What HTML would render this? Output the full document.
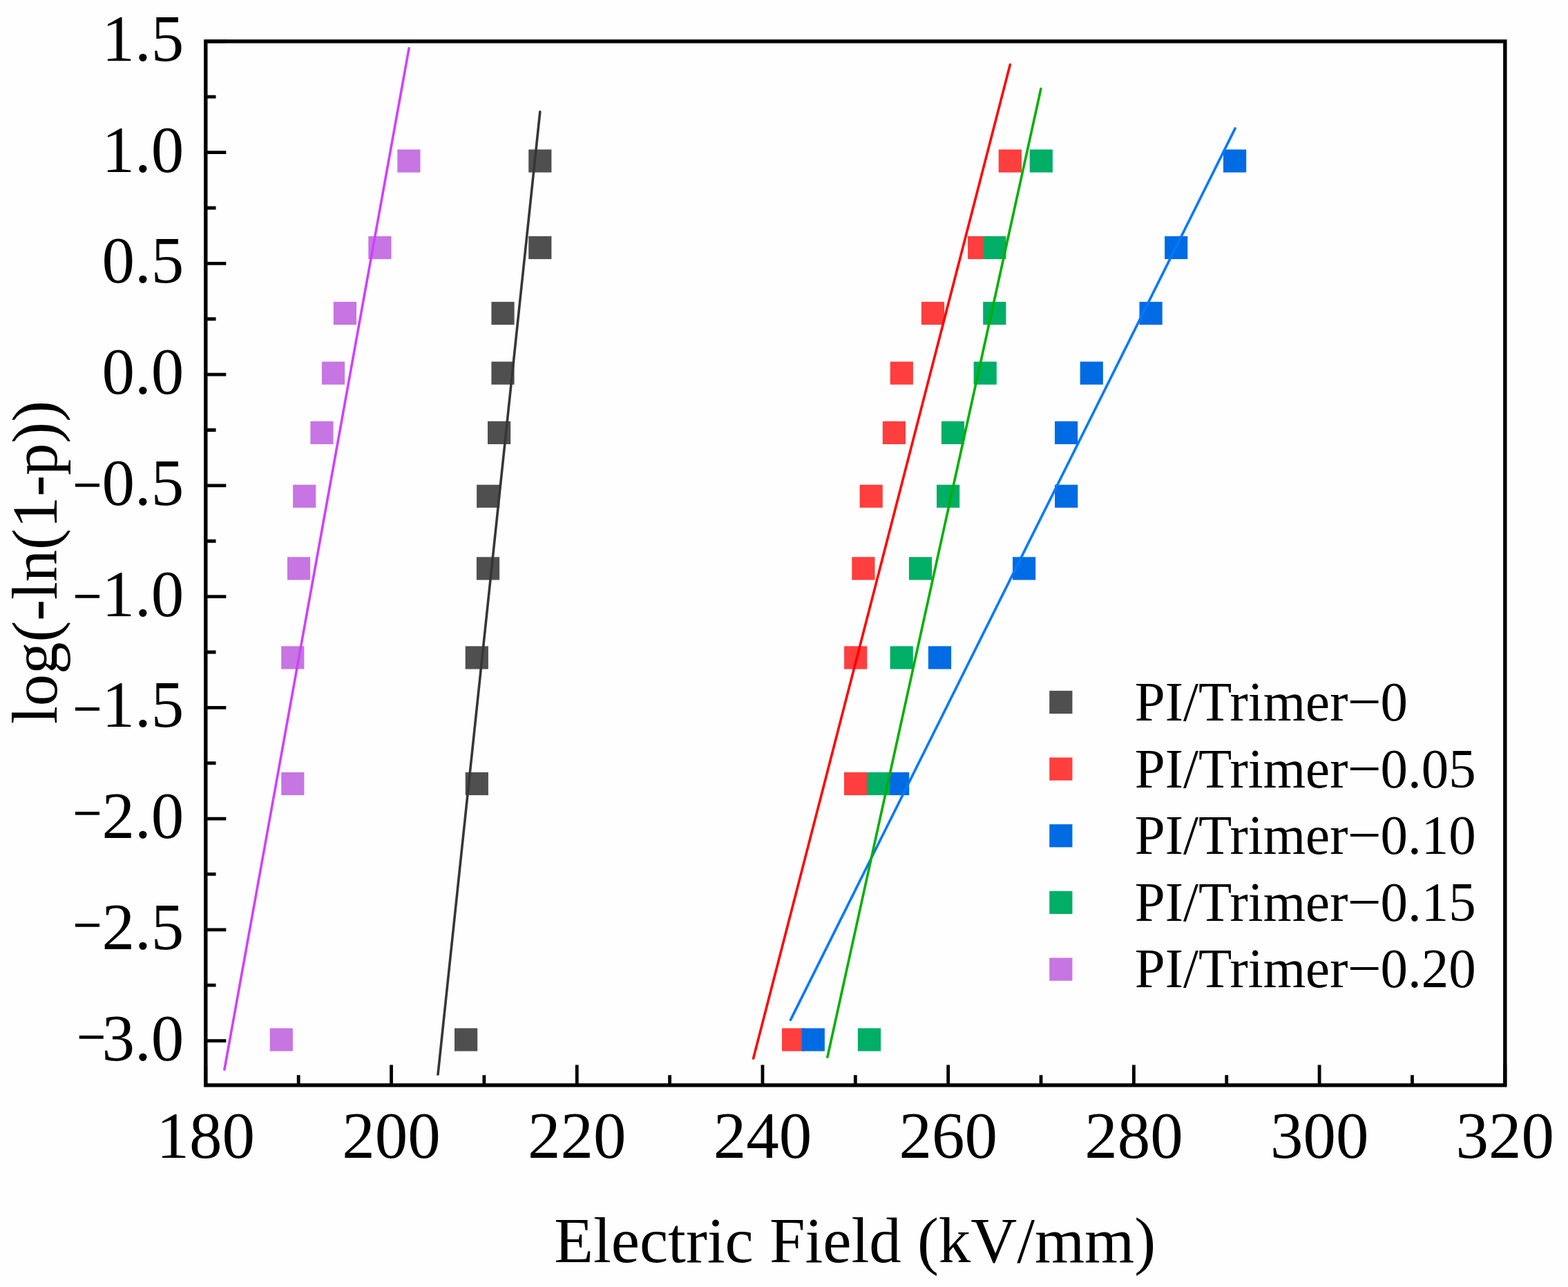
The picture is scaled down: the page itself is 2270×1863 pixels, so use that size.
<!DOCTYPE html><html><head><meta charset="utf-8"><title>Weibull plot</title><style>html,body{margin:0;padding:0;background:#fefefe;overflow:hidden;width:2270px;height:1863px;}svg{display:block;}text{font-family:"Liberation Serif","Times New Roman",serif;fill:#000;}</style></head><body>
<svg width="2270" height="1863" viewBox="0 0 2270 1863">
<rect x="0" y="0" width="2270" height="1863" fill="#fefefe"/>
<g fill="#4f4f4f">
<rect x="765.20" y="216.40" width="33.2" height="33.2"/>
<rect x="765.20" y="341.90" width="33.2" height="33.2"/>
<rect x="711.40" y="436.90" width="33.2" height="33.2"/>
<rect x="711.40" y="523.50" width="33.2" height="33.2"/>
<rect x="706.00" y="609.80" width="33.2" height="33.2"/>
<rect x="690.10" y="701.70" width="33.2" height="33.2"/>
<rect x="689.90" y="806.30" width="33.2" height="33.2"/>
<rect x="673.70" y="935.35" width="33.2" height="33.2"/>
<rect x="673.70" y="1117.90" width="33.2" height="33.2"/>
<rect x="658.00" y="1488.40" width="33.2" height="33.2"/>
</g>
<g fill="#ff3e3e">
<rect x="1445.70" y="216.40" width="33.2" height="33.2"/>
<rect x="1401.10" y="341.90" width="33.2" height="33.2"/>
<rect x="1333.90" y="436.90" width="33.2" height="33.2"/>
<rect x="1288.70" y="523.50" width="33.2" height="33.2"/>
<rect x="1277.80" y="609.80" width="33.2" height="33.2"/>
<rect x="1244.60" y="701.70" width="33.2" height="33.2"/>
<rect x="1233.30" y="806.30" width="33.2" height="33.2"/>
<rect x="1222.10" y="935.35" width="33.2" height="33.2"/>
<rect x="1222.00" y="1117.90" width="33.2" height="33.2"/>
<rect x="1132.00" y="1488.40" width="33.2" height="33.2"/>
</g>
<g fill="#006be3">
<rect x="1771.00" y="216.40" width="33.2" height="33.2"/>
<rect x="1686.10" y="341.90" width="33.2" height="33.2"/>
<rect x="1649.50" y="436.90" width="33.2" height="33.2"/>
<rect x="1563.70" y="523.50" width="33.2" height="33.2"/>
<rect x="1527.00" y="609.80" width="33.2" height="33.2"/>
<rect x="1527.10" y="701.70" width="33.2" height="33.2"/>
<rect x="1466.00" y="806.30" width="33.2" height="33.2"/>
<rect x="1343.90" y="935.35" width="33.2" height="33.2"/>
<rect x="1283.00" y="1117.90" width="33.2" height="33.2"/>
<rect x="1160.70" y="1488.40" width="33.2" height="33.2"/>
</g>
<g fill="#00ae66">
<rect x="1490.70" y="216.40" width="33.2" height="33.2"/>
<rect x="1423.20" y="341.90" width="33.2" height="33.2"/>
<rect x="1423.20" y="436.90" width="33.2" height="33.2"/>
<rect x="1409.60" y="523.50" width="33.2" height="33.2"/>
<rect x="1362.90" y="609.80" width="33.2" height="33.2"/>
<rect x="1356.00" y="701.70" width="33.2" height="33.2"/>
<rect x="1315.90" y="806.30" width="33.2" height="33.2"/>
<rect x="1288.60" y="935.35" width="33.2" height="33.2"/>
<rect x="1255.00" y="1117.90" width="33.2" height="33.2"/>
<rect x="1241.90" y="1488.40" width="33.2" height="33.2"/>
</g>
<g fill="#c675e3">
<rect x="575.30" y="216.40" width="33.2" height="33.2"/>
<rect x="533.30" y="341.90" width="33.2" height="33.2"/>
<rect x="482.80" y="436.90" width="33.2" height="33.2"/>
<rect x="465.90" y="523.50" width="33.2" height="33.2"/>
<rect x="449.40" y="609.80" width="33.2" height="33.2"/>
<rect x="424.10" y="701.70" width="33.2" height="33.2"/>
<rect x="416.00" y="806.30" width="33.2" height="33.2"/>
<rect x="407.20" y="935.35" width="33.2" height="33.2"/>
<rect x="407.20" y="1117.90" width="33.2" height="33.2"/>
<rect x="390.70" y="1488.40" width="33.2" height="33.2"/>
</g>
<line x1="634.0" y1="1555.3" x2="781.8" y2="161.9" stroke="#363636" stroke-width="3.6" stroke-linecap="round"/>
<line x1="1090.6" y1="1532.1" x2="1462.3" y2="93.6" stroke="#ff0000" stroke-width="3.6" stroke-linecap="round"/>
<line x1="1144.5" y1="1476.4" x2="1788.1" y2="185.9" stroke="#0078ff" stroke-width="3.6" stroke-linecap="round"/>
<line x1="1197.9" y1="1530.2" x2="1506.9" y2="128.6" stroke="#00b000" stroke-width="3.6" stroke-linecap="round"/>
<line x1="324.9" y1="1548.3" x2="592.1" y2="69.75" stroke="#d040ff" stroke-width="3.6" stroke-linecap="round"/>
<path d="M297.80 59.85H327.30M297.80 220.60H327.30M297.80 381.35H327.30M297.80 542.10H327.30M297.80 702.85H327.30M297.80 863.60H327.30M297.80 1024.35H327.30M297.80 1185.10H327.30M297.80 1345.85H327.30M297.80 1506.60H327.30M297.80 140.22H312.50M297.80 300.98H312.50M297.80 461.73H312.50M297.80 622.48H312.50M297.80 783.23H312.50M297.80 943.98H312.50M297.80 1104.72H312.50M297.80 1265.47H312.50M297.80 1426.22H312.50M297.80 1570.90V1541.40M566.52 1570.90V1541.40M835.24 1570.90V1541.40M1103.96 1570.90V1541.40M1372.68 1570.90V1541.40M1641.40 1570.90V1541.40M1910.12 1570.90V1541.40M2178.84 1570.90V1541.40M432.16 1570.90V1556.20M700.88 1570.90V1556.20M969.60 1570.90V1556.20M1238.32 1570.90V1556.20M1507.04 1570.90V1556.20M1775.76 1570.90V1556.20M2044.48 1570.90V1556.20" stroke="#000" stroke-width="4.8" fill="none"/>
<rect x="297.80" y="59.85" width="1881.04" height="1511.05" fill="none" stroke="#000" stroke-width="5.4"/>
<text transform="translate(266.3 87.75) scale(1 1.01)" font-size="95" text-anchor="end">1.5</text>
<text transform="translate(266.3 248.50) scale(1 1.01)" font-size="95" text-anchor="end">1.0</text>
<text transform="translate(266.3 409.25) scale(1 1.01)" font-size="95" text-anchor="end">0.5</text>
<text transform="translate(266.3 570.00) scale(1 1.01)" font-size="95" text-anchor="end">0.0</text>
<text transform="translate(105.15 734.09) scale(0.792 1)" font-size="95">−</text>
<text transform="translate(266.3 730.75) scale(1 1.01)" font-size="95" text-anchor="end">0.5</text>
<text transform="translate(105.35 895.39) scale(0.792 1)" font-size="95">−</text>
<text transform="translate(266.3 891.50) scale(1 1.01)" font-size="95" text-anchor="end">1.0</text>
<text transform="translate(105.35 1058.14) scale(0.792 1)" font-size="95">−</text>
<text transform="translate(266.3 1052.25) scale(1 1.01)" font-size="95" text-anchor="end">1.5</text>
<text transform="translate(105.15 1209.44) scale(0.792 1)" font-size="95">−</text>
<text transform="translate(266.3 1213.00) scale(1 1.01)" font-size="95" text-anchor="end">2.0</text>
<text transform="translate(105.35 1370.69) scale(0.792 1)" font-size="95">−</text>
<text transform="translate(266.3 1373.75) scale(1 1.01)" font-size="95" text-anchor="end">2.5</text>
<text transform="translate(111.05 1532.79) scale(0.792 1)" font-size="95">−</text>
<text transform="translate(266.3 1534.50) scale(1 1.01)" font-size="95" text-anchor="end">3.0</text>
<text transform="translate(297.80 1675.8) scale(1 1.01)" font-size="95" text-anchor="middle">180</text>
<text transform="translate(566.52 1675.8) scale(1 1.01)" font-size="95" text-anchor="middle">200</text>
<text transform="translate(835.24 1675.8) scale(1 1.01)" font-size="95" text-anchor="middle">220</text>
<text transform="translate(1103.96 1675.8) scale(1 1.01)" font-size="95" text-anchor="middle">240</text>
<text transform="translate(1372.68 1675.8) scale(1 1.01)" font-size="95" text-anchor="middle">260</text>
<text transform="translate(1641.40 1675.8) scale(1 1.01)" font-size="95" text-anchor="middle">280</text>
<text transform="translate(1910.12 1675.8) scale(1 1.01)" font-size="95" text-anchor="middle">300</text>
<text transform="translate(2178.84 1675.8) scale(1 1.01)" font-size="95" text-anchor="middle">320</text>
<text transform="translate(1237.75 1827.4) scale(1 1.01)" font-size="92.8" text-anchor="middle">Electric Field (kV/mm)</text>
<text transform="translate(81.7 813.95) rotate(-90) scale(1 1.01)" font-size="92.6" text-anchor="middle">log(-ln(1-p))</text>
<rect x="1519.25" y="999.90" width="33.2" height="33.2" fill="#4f4f4f"/>
<text transform="translate(1642.8 1043.00) scale(1 1.01)" font-size="79">PI/Trimer<tspan dx="4.0" dy="-7.75">–</tspan><tspan dx="3.45" dy="7.75">0</tspan></text>
<rect x="1519.25" y="1096.55" width="33.2" height="33.2" fill="#ff3e3e"/>
<text transform="translate(1642.8 1139.50) scale(1 1.01)" font-size="79">PI/Trimer<tspan dx="4.0" dy="-7.75">–</tspan><tspan dx="3.45" dy="7.75">0.05</tspan></text>
<rect x="1519.25" y="1193.20" width="33.2" height="33.2" fill="#006be3"/>
<text transform="translate(1642.8 1236.00) scale(1 1.01)" font-size="79">PI/Trimer<tspan dx="4.0" dy="-7.75">–</tspan><tspan dx="3.45" dy="7.75">0.10</tspan></text>
<rect x="1519.25" y="1289.85" width="33.2" height="33.2" fill="#00ae66"/>
<text transform="translate(1642.8 1332.50) scale(1 1.01)" font-size="79">PI/Trimer<tspan dx="4.0" dy="-7.75">–</tspan><tspan dx="3.45" dy="7.75">0.15</tspan></text>
<rect x="1519.25" y="1386.50" width="33.2" height="33.2" fill="#c675e3"/>
<text transform="translate(1642.8 1429.00) scale(1 1.01)" font-size="79">PI/Trimer<tspan dx="4.0" dy="-7.75">–</tspan><tspan dx="3.45" dy="7.75">0.20</tspan></text>
</svg></body></html>
